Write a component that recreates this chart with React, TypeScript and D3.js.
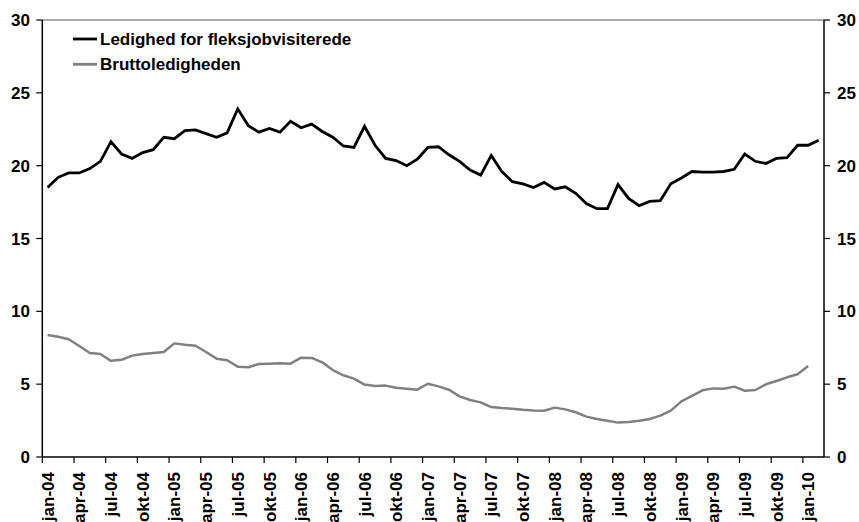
import React from 'react';
import * as d3 from 'd3';

// måneder og år for kategoriaksen
const monthNames = ['jan', 'feb', 'mar', 'apr', 'maj', 'jun', 'jul', 'aug', 'sep', 'okt', 'nov', 'dec'];
const years = ['04', '05', '06', '07', '08', '09', '10'];
const categories: string[] = years.flatMap(y => monthNames.map(m => `${m}-${y}`)).slice(0, 74); // jan-04 .. feb-10

const yTicks = [0, 5, 10, 15, 20, 25, 30];

// Ledighed for fleksjobvisiterede (jan-04 .. feb-10)
const fleksjob = [
  18.5, 19.2, 19.5, 19.5, 19.8, 20.3, 21.65, 20.8, 20.5, 20.9, 21.1, 21.95,
  21.85, 22.4, 22.45, 22.2, 21.95, 22.25, 23.9, 22.75, 22.3, 22.55, 22.3, 23.05,
  22.6, 22.85, 22.35, 21.95, 21.35, 21.25, 22.7, 21.4, 20.5, 20.35, 20.0, 20.45,
  21.25, 21.3, 20.75, 20.3, 19.7, 19.35, 20.7, 19.6, 18.9, 18.75, 18.5, 18.85,
  18.4, 18.55, 18.1, 17.4, 17.05, 17.05, 18.7, 17.75, 17.25, 17.55, 17.6, 18.75,
  19.15, 19.6, 19.55, 19.55, 19.6, 19.75, 20.8, 20.3, 20.15, 20.5, 20.55, 21.4,
  21.4, 21.75,
];

// Bruttoledigheden (jan-04 .. jan-10)
const brutto = [
  8.38, 8.26, 8.08, 7.62, 7.14, 7.07, 6.6, 6.67, 6.96, 7.07, 7.14, 7.21,
  7.8, 7.71, 7.64, 7.21, 6.75, 6.64, 6.2, 6.16, 6.38, 6.41, 6.43, 6.41,
  6.82, 6.8, 6.5, 5.97, 5.61, 5.38, 4.97, 4.87, 4.9, 4.76, 4.69, 4.62,
  5.03, 4.85, 4.62, 4.16, 3.91, 3.75, 3.43, 3.36, 3.32, 3.25, 3.2, 3.18,
  3.39, 3.27, 3.07, 2.77, 2.61, 2.49, 2.36, 2.4, 2.49, 2.61, 2.84, 3.18,
  3.82, 4.19, 4.58, 4.71, 4.69, 4.83, 4.55, 4.6, 4.99, 5.22, 5.47, 5.68,
  6.25,
];

const seriesNames = ['Ledighed for fleksjobvisiterede', 'Bruttoledigheden'];
const seriesColors = ['#000000', '#808080'];

const W = 859;
const H = 522;
const left = 42.3;
const right = 824;
const top = 20;
const bottom = 457;
const FONT = '"Liberation Sans", Arial, Helvetica, sans-serif';
const FS = 17;

export default function App() {
  const x = d3.scaleBand<string>().domain(categories).range([left, right]).padding(0);
  const y = d3.scaleLinear().domain([0, 30]).range([bottom, top]);
  const cx = (i: number) => (x(categories[i]) as number) + x.bandwidth() / 2;

  const line = d3.line<number>().x((_, i) => cx(i)).y(d => y(d));

  const tickIdx = categories.map((_, i) => i).filter(i => i % 3 === 0);

  return (
    <svg width={W} height={H} style={{ position: 'absolute', left: 0, top: 0, background: '#fff' }} fontFamily={FONT}>
      {/* plot area border top */}
      <line x1={left} x2={right} y1={top} y2={top} stroke="#555" strokeWidth={1} />

      {/* series */}
      <path d={line(brutto) || ''} fill="none" stroke={seriesColors[1]} strokeWidth={2.5} strokeLinejoin="round" />
      <path d={line(fleksjob) || ''} fill="none" stroke={seriesColors[0]} strokeWidth={2.8} strokeLinejoin="miter" />

      {/* axes */}
      <line x1={left} x2={left} y1={top} y2={bottom} stroke="#000" strokeWidth={1.5} />
      <line x1={right} x2={right} y1={top} y2={bottom} stroke="#000" strokeWidth={1.5} />
      <line x1={left} x2={right} y1={bottom} y2={bottom} stroke="#000" strokeWidth={1.5} />

      {yTicks.map(t => (
        <g key={'y' + t}>
          <line x1={left - 6} x2={left} y1={y(t)} y2={y(t)} stroke="#000" strokeWidth={1.2} />
          <text x={30} y={y(t)} dy="0.36em" textAnchor="end" fontSize={FS} fontWeight="bold">{t}</text>
          <line x1={right} x2={right + 6} y1={y(t)} y2={y(t)} stroke="#000" strokeWidth={1.2} />
          <text x={837} y={y(t)} dy="0.36em" textAnchor="start" fontSize={FS} fontWeight="bold">{t}</text>
        </g>
      ))}

      {tickIdx.map(i => {
        const bx = x(categories[i]) as number;
        const lx = cx(i);
        return (
          <g key={'x' + i}>
            <line x1={bx} x2={bx} y1={bottom} y2={bottom + 6} stroke="#000" strokeWidth={1.2} />
            <text
              transform={`translate(${lx},${bottom + 15}) rotate(-90)`}
              dy="0.36em"
              textAnchor="end"
              fontSize={FS}
              fontWeight="bold"
            >
              {categories[i]}
            </text>
          </g>
        );
      })}

      {/* legend */}
      {seriesNames.map((name, k) => (
        <g key={name} transform={`translate(0,${39 + k * 25.3})`}>
          <line x1={73} x2={97} y1={0} y2={0} stroke={seriesColors[k]} strokeWidth={2.8} />
          <text x={100} y={0} dy="0.36em" fontSize={FS} fontWeight="bold">{name}</text>
        </g>
      ))}
    </svg>
  );
}
